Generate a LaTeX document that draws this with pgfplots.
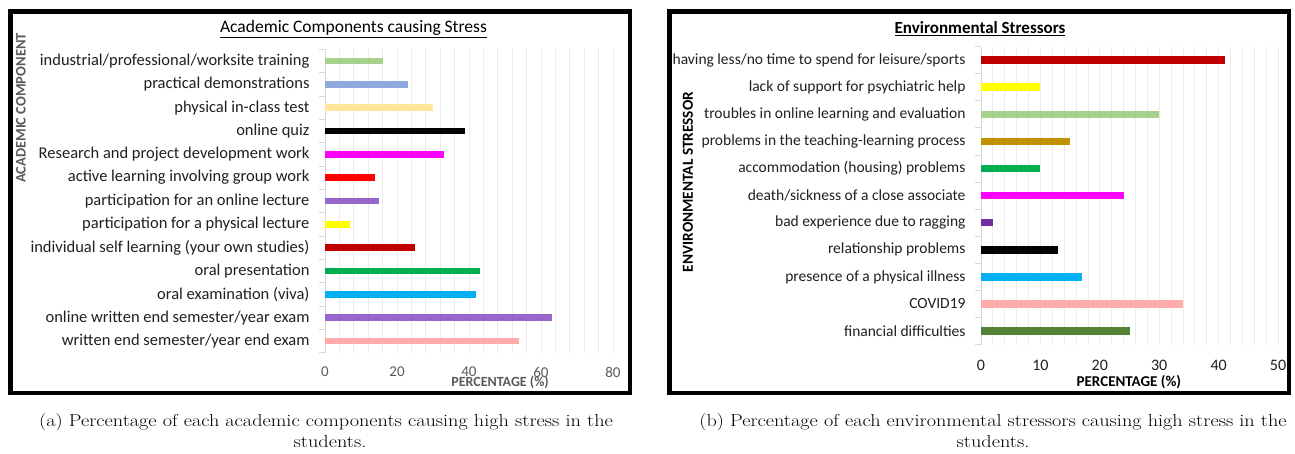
\documentclass[border=0pt]{standalone}
\usepackage{fontspec}
\usepackage{pgfplots}
\pgfplotsset{compat=1.18}
\newfontfamily\chartfont{Carlito}
\newfontfamily\capfont[FakeStretch=1.17]{Latin Modern Roman}

\definecolor{cLightGreen}{HTML}{A9D18E}
\definecolor{cLightBlue}{HTML}{8FAADC}
\definecolor{cLightYellow}{HTML}{FFE699}
\definecolor{cMagenta}{HTML}{FF00FF}
\definecolor{cRed}{HTML}{FF0000}
\definecolor{cPurple}{HTML}{9966CC}
\definecolor{cYellow}{HTML}{FFFF00}
\definecolor{cDarkRed}{HTML}{C00000}
\definecolor{cGreen}{HTML}{00B050}
\definecolor{cCyan}{HTML}{00B0F0}
\definecolor{cPink}{HTML}{FFABAB}
\definecolor{cGold}{HTML}{BF9000}
\definecolor{cViolet}{HTML}{7030A0}
\definecolor{cOlive}{HTML}{548235}
\definecolor{gridline}{HTML}{EBEBEB}
\definecolor{axisgray}{HTML}{D9D9D9}
\definecolor{tickgray}{HTML}{595959}
\definecolor{labeltext}{HTML}{1F1F1F}

\pgfplotsset{
  onebar/.style={xbar, bar shift=0pt, draw=none},
  stressaxis/.style={
    scale only axis,
    axis lines*=left,
    x axis line style={draw=none},
    y axis line style={draw=axisgray, line width=0.8pt},
    xmajorgrids,
    major grid style={draw=gridline, line width=0.8pt},
    major tick length=0pt,
    minor tick length=6pt,
    tick align=outside,
    minor y tick style={draw=axisgray, line width=0.8pt},
    clip=false,
  },
}

\begin{document}
\begin{tikzpicture}
\path[use as bounding box] (0,0) rectangle (1295pt,453pt);

% ---------------- (a) academic components ----------------
\begin{axis}[
  stressaxis,
  at={(325pt,100.3pt)}, anchor=south west,
  width=288pt, height=303.4pt,
  xmin=0, xmax=80, ymin=-0.5, ymax=12.5,
  bar width=6.5pt,
  xtick={0,4,...,80},
  xticklabels={0,,,,,20,,,,,40,,,,,60,,,,,80},
  ytick={0,...,12},
  yticklabels={written end semester/year end exam,
    online written end semester/year exam,
    oral examination (viva),
    oral presentation,
    individual self learning (your own studies),
    participation for a physical lecture,
    participation for an online lecture,
    active learning involving group work,
    Research and project development work,
    online quiz,
    physical in-class test,
    practical demonstrations,
    industrial/professional/worksite training},
  minor ytick={-0.5,0.5,...,12.5},
  xticklabel style={font=\chartfont\fontsize{15}{17}\selectfont, text=tickgray, yshift=-11pt},
  yticklabel style={font=\chartfont\fontsize{16.5}{18}\selectfont, text=labeltext, xshift=-12pt},
  xlabel={PERCENTAGE (\%)},
  xlabel style={at={(axis description cs:0.608,0)}, anchor=center, yshift=-29.3pt,
    font=\chartfont\bfseries\fontsize{14}{16}\selectfont, text=tickgray},
  ylabel={ACADEMIC COMPONENT},
  ylabel style={at={(axis description cs:-1.0556,0.8065)}, anchor=center, rotate=0,
    font=\chartfont\bfseries\fontsize{14.5}{16}\selectfont, text=tickgray},
]
\addplot[onebar, fill=cPink]        coordinates {(54,0)};
\addplot[onebar, fill=cPurple]      coordinates {(63,1)};
\addplot[onebar, fill=cCyan]        coordinates {(42,2)};
\addplot[onebar, fill=cGreen]       coordinates {(43,3)};
\addplot[onebar, fill=cDarkRed]     coordinates {(25,4)};
\addplot[onebar, fill=cYellow]      coordinates {(7,5)};
\addplot[onebar, fill=cPurple]      coordinates {(15,6)};
\addplot[onebar, fill=cRed]         coordinates {(14,7)};
\addplot[onebar, fill=cMagenta]     coordinates {(33,8)};
\addplot[onebar, fill=black]        coordinates {(39,9)};
\addplot[onebar, fill=cLightYellow] coordinates {(30,10)};
\addplot[onebar, fill=cLightBlue]   coordinates {(23,11)};
\addplot[onebar, fill=cLightGreen]  coordinates {(16,12)};
\end{axis}

% ---------------- (b) environmental stressors ----------------
\begin{axis}[
  stressaxis,
  at={(981pt,108.4pt)}, anchor=south west,
  width=297pt, height=298pt,
  xmin=0, xmax=50, ymin=-0.5, ymax=10.5,
  bar width=7.5pt,
  xtick={0,2,...,50},
  xticklabels={0,,,,,10,,,,,20,,,,,30,,,,,40,,,,,50},
  ytick={0,...,10},
  yticklabels={financial difficulties,
    COVID19,
    presence of a physical illness,
    relationship problems,
    bad experience due to ragging,
    death/sickness of a close associate,
    accommodation (housing) problems,
    problems in the teaching-learning process,
    troubles in online learning and evaluation,
    lack of support for psychiatric help,
    having less/no time to spend for leisure/sports},
  minor ytick={-0.5,0.5,...,10.5},
  xticklabel style={font=\chartfont\fontsize{16}{18}\selectfont, text=labeltext, yshift=-12pt},
  yticklabel style={font=\chartfont\fontsize{15.5}{17}\selectfont, text=labeltext, xshift=-12pt},
  xlabel={PERCENTAGE (\%)},
  xlabel style={at={(axis description cs:0.498,0)}, anchor=center, yshift=-37.4pt,
    font=\chartfont\bfseries\fontsize{15}{17}\selectfont, text=black},
  ylabel={ENVIRONMENTAL STRESSOR},
  ylabel style={at={(axis description cs:-0.9865,0.5456)}, anchor=center, rotate=0,
    font=\chartfont\bfseries\fontsize{15.3}{17}\selectfont, text=black},
]
\addplot[onebar, fill=cOlive]      coordinates {(25,0)};
\addplot[onebar, fill=cPink]       coordinates {(34,1)};
\addplot[onebar, fill=cCyan]       coordinates {(17,2)};
\addplot[onebar, fill=black]       coordinates {(13,3)};
\addplot[onebar, fill=cViolet]     coordinates {(2,4)};
\addplot[onebar, fill=cMagenta]    coordinates {(24,5)};
\addplot[onebar, fill=cGreen]      coordinates {(10,6)};
\addplot[onebar, fill=cGold]       coordinates {(15,7)};
\addplot[onebar, fill=cLightGreen] coordinates {(30,8)};
\addplot[onebar, fill=cYellow]     coordinates {(10,9)};
\addplot[onebar, fill=cDarkRed]    coordinates {(41,10)};
\end{axis}

% chart titles
\node[font=\chartfont\fontsize{17.5}{20}\selectfont] at (353.5pt,424pt) {\underline{Academic Components causing Stress}};
\node[font=\chartfont\bfseries\fontsize{17}{20}\selectfont] at (980pt,424pt) {\underline{Environmental Stressors}};

% frames around the two charts
\draw[line width=4.5pt] (10.5pt,441.5pt) rectangle (630pt,60pt);
\draw[line width=4.5pt] (669.5pt,441.5pt) rectangle (1289pt,60pt);

% sub-captions
\node[font=\capfont\fontsize{17.3}{20}\selectfont] at (326pt,31pt) {(a) Percentage of each academic components causing high stress in the};
\node[font=\capfont\fontsize{17.3}{20}\selectfont] at (330pt,11pt) {students.};
\node[font=\capfont\fontsize{17.3}{20}\selectfont] at (993pt,31pt) {(b) Percentage of each environmental stressors causing high stress in the};
\node[font=\capfont\fontsize{17.3}{20}\selectfont] at (993pt,11pt) {students.};
\end{tikzpicture}
\end{document}
